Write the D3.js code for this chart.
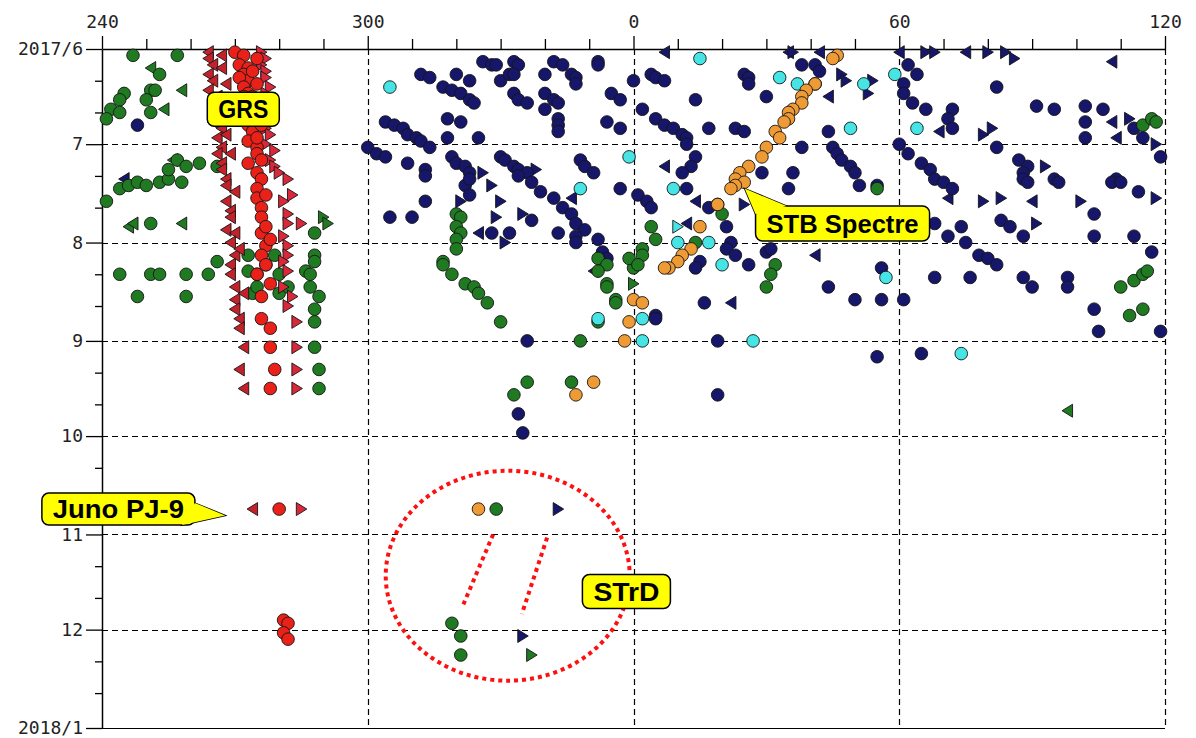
<!DOCTYPE html>
<html>
<head>
<meta charset="utf-8">
<script src="https://cdn.jsdelivr.net/npm/d3@7"></script>
<style>
  html, body { margin: 0; padding: 0; background: #fff; }
  svg { display: block; }
</style>
</head>
<body>
<svg width="1196" height="738"></svg>
<script>
// Drift chart: System II longitude (top) vs. date (left), June 2017 - Jan 2018
// every point is [longitude, days after 2017-06-01]

const lonTicks = [240, 250, 260, 270, 280, 290, 300, 310, 320, 330, 340, 350, 360,
  370, 380, 390, 400, 410, 420, 430, 440, 450, 460, 470, 480];
const lonMajor = [240, 300, 360, 420, 480];
const lonTickLabels = ['240', '300', '0', '60', '120'];
const monthLabels = ['2017/6', '7', '8', '9', '10', '11', '12', '2018/1'];
const minorDays = [11, 21];

const navyCircles = [[248,24],[326,4],[328,5],[329,5],[333,4],[334,5],[312,8],[314,9],[320,8],[323,10],
  [317,12],[319,13],[321,14],[323,16],[324,17],[330,10],[332,8],[333,8],[340,8],[342,4],[344,5],[346,8],
  [347,9],[347,11],[352,4],[352,5],[333,14],[334,16],[336,17],[340,14],[342,16],[343,17],[340,19],[343,22],
  [343,24],[343,26],[355,14],[357,16],[354,23],[357,25],[304,23],[306,24],[308,25],[309,27],[311,28],[312,29],
  [318,22],[321,23],[318,28],[325,28],[300,31],[302,33],[304,34],[309,36],[314,31],[313,38],[319,34],[320,36],
  [322,37],[323,39],[330,34],[331,35],[333,37],[334,38],[336,39],[348,35],[349,37],[351,39],
  [0,10],[4,8],[5,9],[7,10],[25,8],[26,9],[26,11],[14,16],[30,15],[2,19],[5,22],[7,24],[9,25],[11,27],[12,28],
  [12,30],[17,25],[23,25],[25,26],[14,34],[13,37],[11,39],[29,39],[36,39],[38,31],[44,26],[45,31],[46,33],
  [47,35],[49,37],[50,39],[38,5],[41,5],[42,7],[41,11],
  [62,5],[64,8],[82,12],[61,11],[61,14],[63,17],[66,19],[72,19],[71,22],[72,25],[91,18],[95,19],[102,18],
  [102,23],[102,28],[106,19],[113,25],[115,28],[82,31],[87,35],[89,37],[88,39],[60,30],[62,33],[65,36],[67,38],
  [109,41],[68,41],[70,42],[72,44],[88,41],[89,42],[95,41],[96,42],[108,42],[110,42],[114,45],[68,55],[71,59],
  [74,56],[75,61],[83,54],[85,56],[88,59],[104,52],[104,59],[113,59],[117,64],[78,65],[80,66],[82,68],[68,72],
  [76,72],[88,72],[90,75],[98,72],[98,75],[104,82],[61,79],[119,34],
  [313,40],[322,43],[323,46],[323,41],[313,48],[305,53],[310,53],[337,54],[328,58],[332,58],[343,58],[334,40],
  [337,42],[339,45],[342,47],[344,50],[346,52],[347,55],[349,57],[347,59],[347,61],[352,60],[353,64],[354,66],
  [357,44],[12,44],[1,46],[3,48],[4,50],[17,50],[19,49],[21,56],[35,44],[22,61],[21,63],[23,65],[15,67],[14,69],
  [26,68],[30,64],[31,63],[44,75],[16,80],[50,79],[56,79],[56,69],[5,84],[51,43],[55,43],
  [336,92],[334,115],[335,121],[5,85],[19,92],[55,97],[19,109],[65,96],[105,89],[119,89]];

const navyTriLeft = [[7,1],[35,1],[42,1],[44,15],[60,1],[75,1],[108,4],[69,26],[108,23],[109,28],[71,47],
  [90,48],[14,48],[41,65],[22,80],[7,37],[12,55],[325,58],[346,47],[351,70],[245,41]];
const navyTriRight = [[36,1],[47,8],[48,10],[53,14],[54,10],[66,1],[68,1],[80,1],[84,1],[86,3],[79,27],[81,25],
  [112,22],[118,30],[79,48],[83,47],[101,48],[118,47],[91,55],[93,37],[25,49],[326,39],[338,38],[328,43],
  [330,48],[329,53],[335,52],[331,61],[321,48],[343,145],[335,185]];

const greenCircles = [[247,2],[257,2],[253,8],[251,13],[252,13],[245,14],[244,16],[242,19],[241,22],[244,20],
  [250,16],[251,20],[244,44],[246,43],[248,42],[250,43],[253,42],[255,41],[258,42],[257,35],[259,37],[262,36],
  [266,37],[255,38],[241,48],[251,55],[244,71],[251,71],[253,71],[259,71],[264,71],[266,67],[248,78],[259,78],
  [273,65],[279,65],[275,71],[273,70],[277,68],[280,71],[274,77],[275,75],[280,77],[282,75],[288,65],[288,67],
  [286,70],[287,71],[287,75],[289,78],[288,58],[288,82],[288,86],[288,94],[289,101],[289,107],
  [320,52],[321,53],[320,56],[321,58],[320,60],[320,63],[317,67],[317,68],[319,71],[322,74],[324,75],[325,77],
  [327,80],[330,86],[352,66],[354,68],[352,70],[354,74],[354,75],[356,79],[356,80],[0,69],[359,66],
  [4,56],[5,60],[2,63],[2,65],[1,68],[14,61],[20,52],[32,68],[31,71],[30,75],
  [348,92],[352,86],[336,105],[333,109],[346,105],[329,145],[319,181],[321,185],[321,191],
  [115,24],[117,22],[118,23],[110,75],[113,73],[115,71],[116,70],[112,84],[115,82],[55,44]];
const greenTriLeft = [[251,6],[254,19],[258,13],[246,56],[247,55],[258,55],[256,35],[98,114]];
const greenTriRight = [[290,53],[291,55],[337,191],[0,74]];

const redCircles = [[270,1],[272,2],[271,5],[273,6],[272,8],[273,10],[271,9],[272,12],[273,14],[272,15],
  [274,18],[273,20],[274,22],[273,24],[274,26],[273,29],[275,31],[275,33],[273,36],[275,39],[276,41],[275,44],
  [275,47],[277,46],[276,50],[276,53],[276,58],[277,62],[276,65],[277,68],[275,71],[278,74],[276,78],[276,85],
  [278,88],[278,94],[279,101],[278,107],[280,145],[281,180],[282,181],[281,184],[282,186],
  [275,3],[274,7],[275,11],[274,15],[275,19],[276,24],[275,28],[276,35],[277,56],[278,60]];
const redTriLeft = [[264,1],[264,3],[265,5],[264,8],[265,10],[264,13],[266,15],[265,18],[266,20],[265,23],
  [267,25],[266,28],[267,31],[266,33],[267,36],[267,38],[268,41],[268,43],[268,48],[269,51],[269,53],[268,57],
  [270,58],[269,61],[270,65],[269,68],[269,71],[270,75],[270,79],[270,82],[271,85],[271,88],[272,94],[271,101],
  [272,107],[274,145],
  [267,2],[267,6],[268,11],[267,16],[268,21],[268,27],[269,33],[270,45],[271,63],[272,77]];
const redTriRight = [[276,1],[277,3],[276,5],[277,7],[277,9],[278,12],[277,14],[278,17],[277,19],[278,22],
  [277,25],[278,27],[277,30],[279,32],[278,35],[279,37],[280,39],[282,41],[283,46],[281,48],[282,52],[282,55],
  [285,55],[281,59],[282,62],[282,65],[281,67],[282,70],[281,75],[283,78],[282,81],[284,86],[284,94],[284,101],
  [284,107],[285,145]];

const cyanCircles = [[305,12],[15,3],[33,9],[37,11],[52,11],[49,25],[59,8],[64,25],[359,34],[348,44],[9,44],
  [10,61],[17,61],[20,68],[57,72],[2,85],[2,92],[27,92],[352,85],[74,96]];
const cyanTriRight = [[10,56]];

const orangeCircles = [[46,2],[45,3],[41,11],[39,13],[38,15],[38,17],[36,19],[35,20],[35,22],[34,23],[32,26],
  [33,28],[30,31],[29,34],[26,37],[24,39],[23,41],[25,42],[23,43],[22,44],[19,49],[15,56],[13,63],[11,65],
  [10,67],[8,69],[7,69],[0,79],[2,80],[359,86],[358,92],[351,105],[347,109],[325,145]];

// callouts: centre of the yellow box in [lon, day]
const callouts = [
  { text: 'GRS', at: [271.9, 19.8], w: 72, h: 34 },
  { text: 'STB Spectre', at: [47.2, 55.5], w: 174, h: 35, tip: [25.1, 44], base: [[31, 0], [0, 8]] },
  { text: 'Juno PJ-9', at: [243.7, 145.9], w: 153, h: 32, tip: [267.8, 147.2], base: [[153, 10], [140, 32]] },
  { text: 'STrD', at: [358.4, 171.4], w: 88, h: 34 },
];
const strdRing = { at: [331.6, 166.7], rx: 122, ry: 105 };
const strdLinks = [[[328.3, 153.8], [321.3, 176.7]], [[340.5, 154.1], [334.8, 178.3]]];

// ---------------------------------------------------------------
const svg = d3.select('svg');
const plotLeft = 102;
const plotRight = 1165;
const plotTop = 49;
const plotBottom = 728;
const t0 = new Date(2017, 5, 1);

const x = d3.scaleLinear().domain([240, 480]).range([plotLeft, plotRight]);
const y = d3.scaleTime().domain([t0, new Date(2018, 0, 1)]).range([plotTop, plotBottom]);

const lonPos = (lon) => (lon < 180 ? lon + 360 : lon);
const dayDate = (d) => d3.timeDay.offset(t0, d);
const px = (d) => x(lonPos(d[0]));
const py = (d) => y(dayDate(d[1]));

const axisFont = "'DejaVu Sans Mono', monospace";

// grid
const grid = svg.append('g').attr('stroke', '#000').attr('stroke-width', 1.2)
  .attr('stroke-dasharray', '6,4');
const monthTicks = d3.timeMonth.range(t0, new Date(2018, 0, 2));
grid.selectAll('.hg').data(monthTicks.slice(1, -1)).join('line')
  .attr('x1', plotLeft).attr('x2', plotRight)
  .attr('y1', (d) => Math.round(y(d)) + 0.5).attr('y2', (d) => Math.round(y(d)) + 0.5);
grid.selectAll('.vg').data(lonMajor.slice(1)).join('line')
  .attr('x1', (d) => Math.round(x(d)) + 0.5).attr('x2', (d) => Math.round(x(d)) + 0.5)
  .attr('y1', plotTop).attr('y2', plotBottom);

svg.append('line').attr('x1', plotLeft).attr('x2', plotRight)
  .attr('y1', plotBottom + 0.5).attr('y2', plotBottom + 0.5)
  .attr('stroke', '#000').attr('stroke-width', 1.2);

// top axis
const xAxis = d3.axisTop(x).tickValues(lonTicks).tickSize(10).tickSizeOuter(0).tickPadding(11)
  .tickFormat((d) => {
    const i = lonMajor.indexOf(d);
    return i >= 0 ? lonTickLabels[i] : '';
  });
const gx = svg.append('g').attr('transform', `translate(0,${plotTop})`).call(xAxis);
gx.selectAll('.tick line').attr('y2', (d) => (lonMajor.includes(d) ? -13 : -10))
  .attr('stroke', '#000').attr('stroke-width', 1.3);
gx.select('.domain').attr('stroke', '#000').attr('stroke-width', 1.5);
gx.selectAll('text').style('font-family', axisFont).style('font-size', '18px').attr('fill', '#222');

// left axis
const yAxis = d3.axisLeft(y).tickValues(monthTicks).tickSize(16).tickSizeOuter(0).tickPadding(3)
  .tickFormat((d, i) => monthLabels[i]);
const gy = svg.append('g').attr('transform', `translate(${plotLeft},0)`).call(yAxis);
gy.select('.domain').attr('stroke', '#000').attr('stroke-width', 1.5);
gy.selectAll('.tick line').attr('stroke', '#000').attr('stroke-width', 1.3);
gy.selectAll('text').style('font-family', axisFont).style('font-size', '18px').attr('fill', '#222');

const minorTicks = [];
monthTicks.slice(0, -1).forEach((m) => {
  minorDays.forEach((d) => minorTicks.push(new Date(m.getFullYear(), m.getMonth(), d)));
});
const gyMinor = svg.append('g').attr('transform', `translate(${plotLeft},0)`)
  .call(d3.axisLeft(y).tickValues(minorTicks).tickSize(7).tickSizeOuter(0).tickFormat(''));
gyMinor.select('.domain').remove();
gyMinor.selectAll('.tick line').attr('stroke', '#000').attr('stroke-width', 1.3);

// markers
const plot = svg.append('g');
const edge = '#151515';

function drawTris(data, dir, fill) {
  const path = dir === 'L' ? 'M-5.5,0L5,-6.5L5,6.5Z' : 'M5.5,0L-5,-6.5L-5,6.5Z';
  plot.append('g').selectAll('path').data(data).join('path')
    .attr('d', path)
    .attr('transform', (d) => `translate(${px(d)},${py(d)})`)
    .attr('fill', fill).attr('stroke', edge).attr('stroke-width', 0.9);
}
function drawCircles(data, fill) {
  plot.append('g').selectAll('circle').data(data).join('circle')
    .attr('cx', px).attr('cy', py).attr('r', 6.3)
    .attr('fill', fill).attr('stroke', edge).attr('stroke-width', 0.9);
}

drawTris(navyTriLeft, 'L', '#16166a');
drawTris(navyTriRight, 'R', '#16166a');
drawCircles(navyCircles, '#16166a');
drawTris(greenTriLeft, 'L', '#1f7a22');
drawTris(greenTriRight, 'R', '#1f7a22');
drawCircles(greenCircles, '#1f7a22');
drawTris(redTriLeft, 'L', '#c4222a');
drawTris(redTriRight, 'R', '#d8283a');
drawCircles(redCircles, '#ea2118');
drawTris(cyanTriRight, 'R', '#46e4e4');
drawCircles(cyanCircles, '#46e4e4');
drawCircles(orangeCircles, '#ee9a35');

// STrD ring and links
const ann = svg.append('g');
ann.append('ellipse')
  .attr('cx', px(strdRing.at)).attr('cy', py(strdRing.at))
  .attr('rx', strdRing.rx).attr('ry', strdRing.ry)
  .attr('fill', 'none').attr('stroke', '#ff1010').attr('stroke-width', 4).attr('stroke-dasharray', '4,4');
ann.selectAll('.link').data(strdLinks).join('line')
  .attr('x1', (d) => px(d[0])).attr('y1', (d) => py(d[0]))
  .attr('x2', (d) => px(d[1])).attr('y2', (d) => py(d[1]))
  .attr('stroke', '#ff1010').attr('stroke-width', 4).attr('stroke-dasharray', '4,4');

// yellow callouts
callouts.forEach((c) => {
  const g = ann.append('g');
  const x0 = px(c.at) - c.w / 2;
  const y0 = py(c.at) - c.h / 2;
  let pts = null;
  if (c.tip) {
    pts = [[px(c.tip), py(c.tip)], [x0 + c.base[0][0], y0 + c.base[0][1]], [x0 + c.base[1][0], y0 + c.base[1][1]]];
    g.append('polygon').attr('points', pts.join(' '))
      .attr('fill', '#ffff00').attr('stroke', '#000').attr('stroke-width', 1.5);
  }
  g.append('rect').attr('x', x0).attr('y', y0).attr('width', c.w).attr('height', c.h)
    .attr('rx', 7).attr('fill', '#ffff00').attr('stroke', '#000').attr('stroke-width', 1.5);
  if (pts) {
    g.append('polygon').attr('points', pts.join(' ')).attr('fill', '#ffff00');
  }
  g.append('text').attr('x', x0 + c.w / 2).attr('y', y0 + c.h / 2 + 9)
    .attr('text-anchor', 'middle')
    .attr('textLength', c.w - 22).attr('lengthAdjust', 'spacingAndGlyphs')
    .style('font-family', "'Liberation Sans', Arial, sans-serif")
    .style('font-weight', 'bold').style('font-size', '26px')
    .attr('fill', '#000')
    .text(c.text);
});
</script>
</body>
</html>
